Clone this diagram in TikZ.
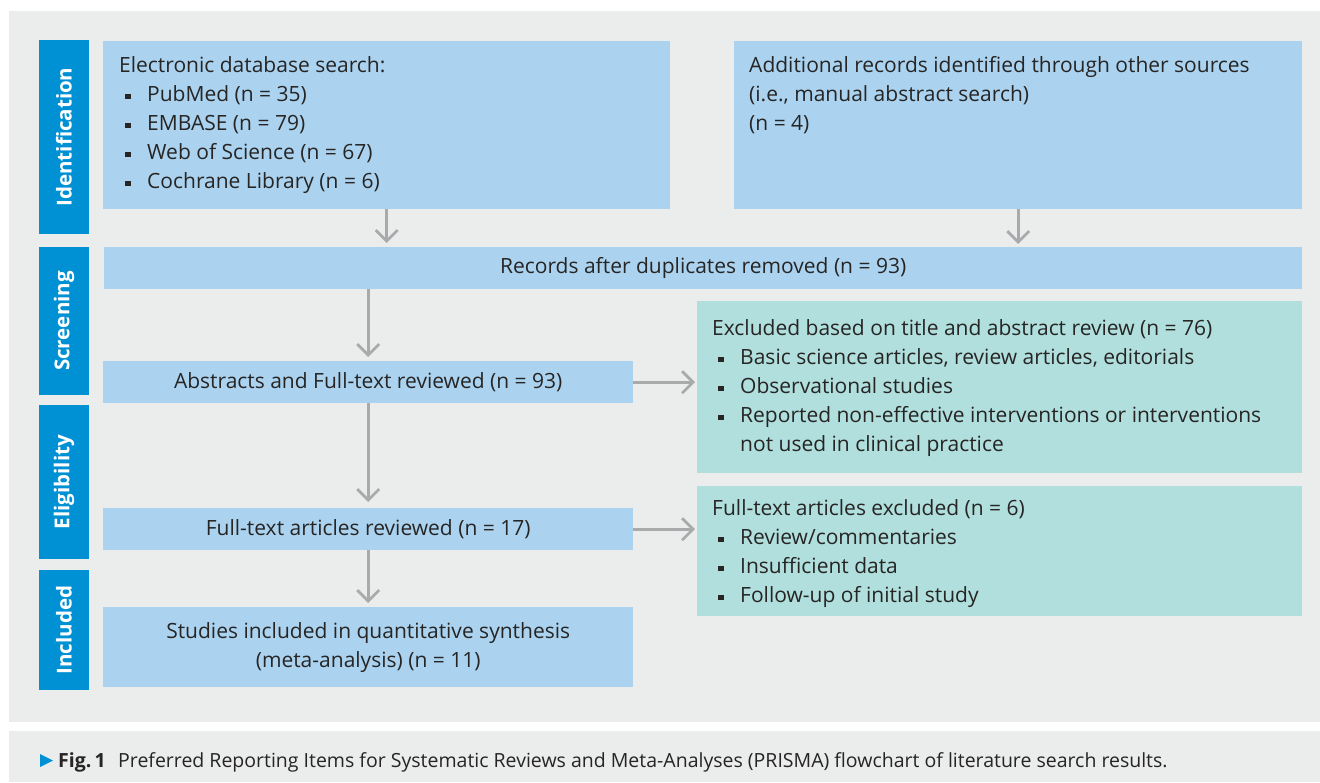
\documentclass[tikz,border=0pt]{standalone}
\usepackage{fontspec}
\setmainfont{Open Sans}
\usetikzlibrary{arrows.meta}
\definecolor{panel}{HTML}{EBECEC}
\definecolor{boxblue}{HTML}{ABD3F0}
\definecolor{boxteal}{HTML}{B0DFDD}
\definecolor{sideblue}{HTML}{0091D5}
\definecolor{arrowgray}{HTML}{A9AAAC}
\definecolor{ink}{HTML}{262524}
\newcommand\bodyfont{\fontsize{21}{29}\selectfont}
\newcommand\capfont{\fontsize{19.5}{24}\selectfont}
\newcommand\bsq{\makebox[28pt][l]{\hspace*{6pt}\raisebox{2pt}{\rule{5.5pt}{5.5pt}}}}
\begin{document}
\begin{tikzpicture}[x=1pt,y=-1pt,
  box/.style={rectangle, fill=boxblue, draw=none, inner sep=0pt, anchor=north west, align=center, font=\bodyfont, text=ink},
  tbox/.style={box, fill=boxteal},
  side/.style={rectangle, fill=sideblue, inner sep=0pt, rotate=90, text=white, font=\fontsize{20.5}{24}\selectfont\bfseries, minimum height=50pt},
  txt/.style={inner sep=0pt, anchor=base west, align=left, font=\bodyfont, text=ink},
  arr/.style={draw=arrowgray, line width=2.7pt, -{Straight Barb[length=11pt,width=22pt]}}]
\useasboundingbox (0,0) rectangle (1320,782);
\fill[white] (0,0) rectangle (1320,782);
\fill[panel] (9,11) rectangle (1320,722);
\fill[panel] (9,731) rectangle (1320,782);

% side labels
\node[side, minimum width=194pt] (sid) at (64,137) {Identification};
\node[side, minimum width=148pt] (ssc) at (64,321) {Screening};
\node[side, minimum width=154pt] (sel) at (64,482) {Eligibility};
\node[side, minimum width=120pt] (sin) at (64,630) {Included};

% boxes
\node[box, minimum width=567pt, minimum height=168pt] (elec) at (103,41) {};
\node[box, minimum width=568pt, minimum height=168pt] (add) at (734,41) {};
\node[box, minimum width=1198pt, minimum height=42pt] (rec) at (104,247) {Records after duplicates removed (n = 93)};
\node[box, minimum width=530pt, minimum height=42pt] (abs) at (103,361) {Abstracts and Full-text reviewed (n = 93)};
\node[tbox, minimum width=605pt, minimum height=172pt] (ex1) at (697,301) {};
\node[box, minimum width=530pt, minimum height=42pt] (ftr) at (103,508) {Full-text articles reviewed (n = 17)};
\node[tbox, minimum width=605pt, minimum height=130pt] (ex2) at (697,486) {};
\node[box, minimum width=530pt, minimum height=80pt] (stu) at (103,607) {Studies included in quantitative synthesis\\(meta-analysis) (n = 11)};

% box texts (anchor = baseline of last line)
\node[txt] (elect) at (119,188) {Electronic database search:\\
\bsq PubMed (n = 35)\\
\bsq EMBASE (n = 79)\\
\bsq Web of Science (n = 67)\\
\bsq Cochrane Library (n = 6)};
\node[txt] (addt) at (749,130) {Additional records identified through other sources\\
(i.e., manual abstract search)\\
(n = 4)};
\node[txt] (ex1t) at (712,451) {Excluded based on title and abstract review (n = 76)\\
\bsq Basic science articles, review articles, editorials\\
\bsq Observational studies\\
\bsq Reported non-effective interventions or interventions\\
\hspace*{28pt}not used in clinical practice};
\node[txt] (ex2t) at (712,602) {Full-text articles excluded (n = 6)\\
\bsq Review/commentaries\\
\bsq Insufficient data\\
\bsq Follow-up of initial study};

% arrows
\draw[arr, shorten >=4pt] (elec.south) -- (elec.south |- rec.north);
\draw[arr, shorten >=3pt] (add.south) -- (add.south |- rec.north);
\draw[arr, shorten >=4pt] (abs.north |- rec.south) -- (abs.north);
\draw[arr, shorten >=6pt] (abs.south) -- (ftr.north);
\draw[arr, shorten >=4pt] (ftr.south) -- (stu.north);
\draw[arr, shorten >=2pt] (abs.east) -- (abs.east -| ex1.west);
\draw[arr, shorten >=2pt] (ftr.east) -- (ftr.east -| ex2.west);

% caption
\fill[sideblue] (40,754) -- (53,760.5) -- (40,767) -- cycle;
\node[anchor=base west, inner sep=0pt, font=\capfont\bfseries, text=ink] (fig) at (58,767) {Fig.\,1};
\node[anchor=base west, inner sep=0pt, font=\capfont, text=ink] (capt) at (118,767) {Preferred Reporting Items for Systematic Reviews and Meta-Analyses (PRISMA) flowchart of literature search results.};
\end{tikzpicture}
\end{document}
